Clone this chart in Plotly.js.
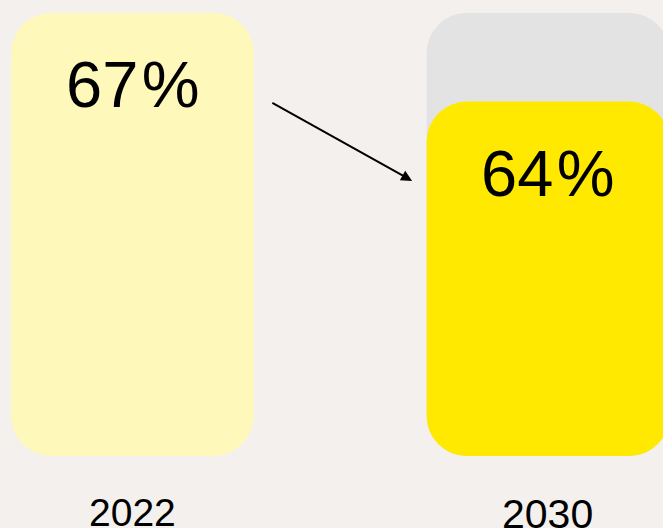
<!DOCTYPE html>
<html>
<head>
<meta charset="utf-8">
<script src="https://cdn.plot.ly/plotly-3.0.1.min.js"></script>
<style>html,body{margin:0;padding:0;background:#F3F0ED;}#chart{width:663px;height:528px;}</style>
</head>
<body>
<div id="chart"></div>
<script>
// Data
const years = ['2022', '2030'];
const shareValues = [67, 64];            // labelled percentages
const barHeights = [100, 80];            // drawn bar heights (relative scale)
const backgroundHeights = [null, 100];   // grey reference bar behind 2030
const barColors = ['#FFF8BB', '#FFE900'];
const bgColor = '#E3E3E3';

const R = 40;          // corner radius (px)
const W = 0.584;       // bar width (category units)

function roundedBar(xs, hs, colors) {
  const xsF = [], ys = [], bases = [], cols = [];
  xs.forEach((x, i) => {
    const h = hs[i];
    if (h === null || h === undefined) return;
    xsF.push(x); ys.push(h); bases.push(0); cols.push(colors[i]);
  });
  return [{type: 'bar', x: xsF, y: ys, base: bases, width: W, hoverinfo: 'skip', showlegend: false,
           marker: {color: cols, cornerradius: R, line: {width: 0}}}];
}

const traces = [].concat(
  roundedBar(years, backgroundHeights, [bgColor, bgColor]),
  roundedBar(years, barHeights, barColors)
);

const yearFont = [39, 41];
const yearShift = [-56, -58];
const annotations = [];
years.forEach((yr, i) => {
  annotations.push({
    x: i, y: barHeights[i], xref: 'x', yref: 'y',
    text: shareValues[i] + '<span style="font-size:12px">\u00A0</span>%', showarrow: false,
    yanchor: 'middle', yshift: -72,
    font: {family: 'Liberation Sans, Arial, sans-serif', size: 65, color: '#000000'}
  });
  annotations.push({
    x: i, y: 0, xref: 'x', yref: 'y',
    text: yr, showarrow: false,
    yanchor: 'middle', yshift: yearShift[i],
    font: {family: 'Liberation Sans, Arial, sans-serif', size: yearFont[i], color: '#000000'}
  });
});
// Arrow from 2022 towards 2030
annotations.push({
  x: 0.673, y: 62.1, xref: 'x', yref: 'y',
  ax: 0.333, ay: 79.9, axref: 'x', ayref: 'y',
  text: '', showarrow: true, arrowhead: 2, arrowsize: 1.1, arrowwidth: 2, arrowcolor: '#000'
});

const layout = {
  width: 663, height: 528,
  margin: {l: 0, r: 0, t: 0, b: 0},
  paper_bgcolor: '#F3F0ED', plot_bgcolor: '#F3F0ED',
  barmode: 'overlay',
  showlegend: false,
  xaxis: {type: 'category', categoryorder: 'array', categoryarray: years,
          range: [-0.3189, 1.2768], visible: false, fixedrange: true},
  yaxis: {range: [-16.25, 102.93], visible: false, fixedrange: true},
  annotations: annotations
};

Plotly.newPlot('chart', traces, layout, {staticPlot: true, displayModeBar: false});
</script>
</body>
</html>
